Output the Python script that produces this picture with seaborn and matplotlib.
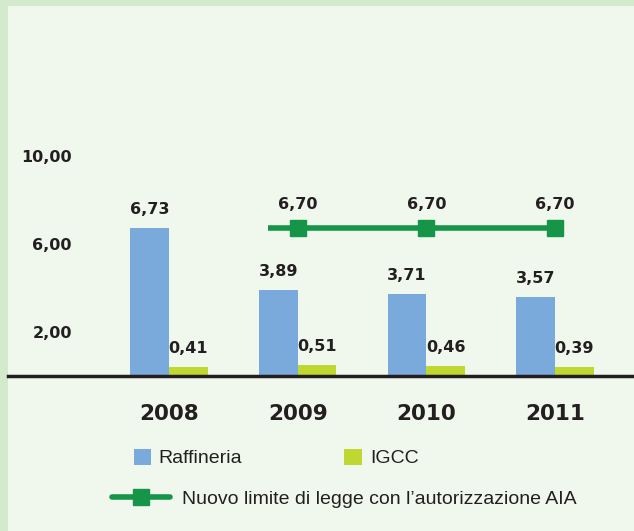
import pandas as pd
import matplotlib.pyplot as plt
import seaborn as sns
from matplotlib.patches import Patch, Rectangle
from matplotlib.lines import Line2D

# data
years = ["2008", "2009", "2010", "2011"]
raffineria = [6.73, 3.89, 3.71, 3.57]
igcc = [0.41, 0.51, 0.46, 0.39]
limit_years = ["2009", "2010", "2011"]
limit_values = [6.70, 6.70, 6.70]
ytick_values = [2, 6, 10]
ytick_labels = ["2,00", "6,00", "10,00"]

BLUE = "#7aaadb"
LIME = "#bfd730"
GREEN = "#169447"
BG = "#f0f8ee"
BORDER = "#d4eacc"
DARK = "#231f20"

df = pd.DataFrame({
    "Anno": years * 2,
    "Valore": raffineria + igcc,
    "Serie": ["Raffineria"] * 4 + ["IGCC"] * 4,
})

sns.set_theme(style="white")
plt.rcParams["font.family"] = ["DejaVu Sans"]
legend_font = {"family": ["Liberation Sans", "DejaVu Sans"], "size": 14}

fig = plt.figure(figsize=(6.34, 5.31), dpi=100)
fig.patch.set_facecolor(BORDER)
fig.patches.append(Rectangle((8 / 634, 0), 1, 1 - 6 / 531, transform=fig.transFigure,
                             facecolor=BG, edgecolor="none", zorder=-10))

ax = fig.add_axes([8 / 634, (531 - 376) / 531, 1 - 8 / 634, (376 - 6) / 531])
ax.set_facecolor("none")

sns.barplot(data=df, x="Anno", y="Valore", hue="Serie", order=years,
            hue_order=["Raffineria", "IGCC"], palette=[BLUE, LIME],
            width=0.6, saturation=1, linewidth=0, legend=False, ax=ax)

ax.set_xlim(-1.251, 3.614)
ax.set_ylim(0, 16.8)

# value labels
for cont in ax.containers:
    ax.bar_label(cont, labels=[f"{v:.2f}".replace(".", ",") for v in cont.datavalues],
                 padding=8, fontsize=11.5, fontweight="bold", color=DARK)

# limit line
pos = [years.index(y) for y in limit_years]
ax.plot([pos[0] - 0.23] + pos, [limit_values[0]] + limit_values, color=GREEN, lw=4,
        solid_capstyle="butt", zorder=3)
ax.plot(pos, limit_values, ls="none", marker="s", ms=12, color=GREEN, zorder=4)
for p, v in zip(pos, limit_values):
    ax.annotate(f"{v:.2f}".replace(".", ","), (p, v), xytext=(0, 12),
                textcoords="offset points", ha="center", va="bottom",
                fontsize=11.5, fontweight="bold", color=DARK)

# axes styling
for s in ["top", "right", "left"]:
    ax.spines[s].set_visible(False)
ax.spines["bottom"].set_color(DARK)
ax.spines["bottom"].set_linewidth(2.5)
ax.set_yticks(ytick_values)
ax.set_yticklabels(ytick_labels)
ax.tick_params(axis="y", length=0, pad=-46, labelsize=11.5, labelcolor=DARK)
ax.tick_params(axis="x", length=0, pad=20, labelsize=15.5, labelcolor=DARK)
for t in ax.get_xticklabels() + ax.get_yticklabels():
    t.set_fontweight("bold")
ax.set_xlabel("")
ax.set_ylabel("")

# legends
h1 = [Patch(facecolor=BLUE, edgecolor="none", label="Raffineria"),
      Patch(facecolor=LIME, edgecolor="none", label="IGCC")]
leg1 = fig.legend(handles=h1, loc="upper left", bbox_to_anchor=(116 / 634, 1 - 431 / 531),
                  ncol=2, frameon=False, handlelength=0.9, handleheight=0.9,
                  handletextpad=0.4, columnspacing=5.25, prop=legend_font)
for t in leg1.get_texts():
    t.set_color(DARK)
h2 = [Line2D([0], [0], color=GREEN, lw=4, marker="s", ms=12,
             label="Nuovo limite di legge con l\u2019autorizzazione AIA")]
leg2 = fig.legend(handles=h2, loc="upper left", bbox_to_anchor=(94 / 634, 1 - 473 / 531),
                  frameon=False, handlelength=3.0, handletextpad=0.6, prop=legend_font)
for t in leg2.get_texts():
    t.set_color(DARK)

fig.savefig("out.png", dpi=100, facecolor=fig.get_facecolor())
